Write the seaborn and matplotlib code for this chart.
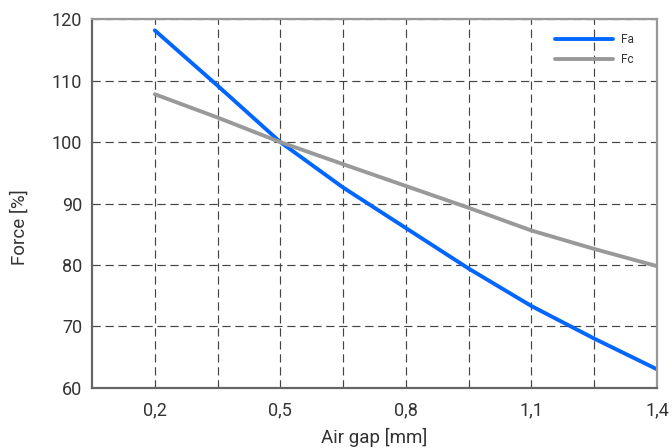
import matplotlib
matplotlib.use("Agg")
import matplotlib.pyplot as plt
import seaborn as sns
import pandas as pd

# Data
gap_mm = [0.2, 0.35, 0.5, 0.65, 0.8, 0.95, 1.1, 1.25, 1.4]
fa = [118.2, 109.2, 100.0, 92.6, 86.0, 79.4, 73.3, 68.0, 63.0]
fc = [107.8, 104.0, 100.0, 96.4, 92.85, 89.3, 85.6, 82.6, 79.8]
series_names = ["Fa", "Fc"]
x_ticks = [0.2, 0.35, 0.5, 0.65, 0.8, 0.95, 1.1, 1.25, 1.4]
x_ticklabels = ["0,2", "", "0,5", "", "0,8", "", "1,1", "", "1,4"]
y_ticks = [60, 70, 80, 90, 100, 110, 120]

df = pd.DataFrame({
    "gap": gap_mm * 2,
    "force": fa + fc,
    "series": [series_names[0]] * len(fa) + [series_names[1]] * len(fc),
})

sns.set_theme(style="white")
plt.rcParams["font.family"] = ["Roboto", "DejaVu Sans"]

fig = plt.figure(figsize=(6.72, 4.48), dpi=100)
ax = fig.add_axes([92 / 672, 1 - 387.7 / 448, (657 - 92) / 672, (387.7 - 19.3) / 448])

sns.lineplot(data=df, x="gap", y="force", hue="series",
             palette={"Fa": "#0066ff", "Fc": "#999999"},
             linewidth=2.8, ax=ax, legend=True)

ax.set_xlim(0.05, 1.4)
ax.set_ylim(60, 120)
ax.set_xticks(x_ticks)
ax.set_xticklabels(x_ticklabels)
ax.set_yticks(y_ticks)
ax.tick_params(axis="x", length=0, pad=10, labelsize=13, colors="#333333")
ax.tick_params(axis="y", length=0, pad=7, labelsize=13, colors="#333333")

ax.grid(True, color="#444444", linestyle=(0, (7, 4)), linewidth=0.85)
ax.set_axisbelow(True)

for side in ["left", "bottom"]:
    ax.spines[side].set_color("#666666")
    ax.spines[side].set_linewidth(1.6)
for side in ["top", "right"]:
    ax.spines[side].set_color("#999999")
    ax.spines[side].set_linewidth(1.6)

ax.set_xlabel("Air gap [mm]", fontsize=13.5, color="#333333", va="center", ha="center")
ax.set_ylabel("Force [%]", fontsize=13.5, color="#333333", va="center", ha="center")
ax.xaxis.set_label_coords(0.5, (387.7 - 437) / 368.4)
ax.yaxis.set_label_coords((20 - 92) / 565, (387.7 - 227.5) / 368.4)

leg = ax.legend(frameon=False, loc="upper left",
                bbox_to_anchor=((555 - 92) / 565, (387.7 - 33) / 368.4),
                borderaxespad=0, borderpad=0,
                fontsize=8.5, handlelength=4.9, handletextpad=0.68,
                labelspacing=0.6, title=None)
for t in leg.get_texts():
    t.set_color("#333333")

fig.savefig("out.png", dpi=100)
